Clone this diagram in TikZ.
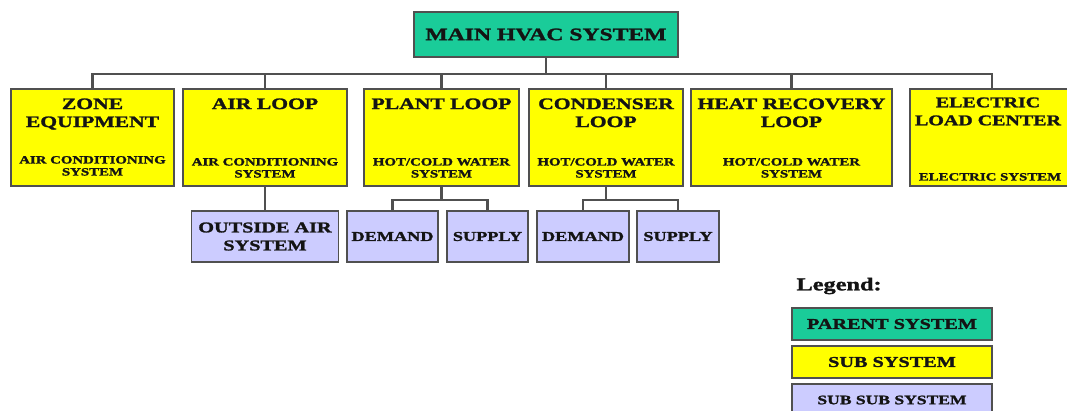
\documentclass[tikz,border=0pt]{standalone}
\usepackage{fontspec}
\newfontfamily\boxfont{Liberation Serif}[FakeStretch=1.35, BoldFeatures={FakeBold=1.6}]
\usetikzlibrary{positioning,calc}
\definecolor{parentgreen}{RGB}{26,204,153}
\definecolor{subyellow}{RGB}{255,255,0}
\definecolor{subsubblue}{RGB}{204,204,255}
\definecolor{edgegray}{RGB}{80,80,80}
\definecolor{inkgray}{RGB}{20,20,20}

\begin{document}
\begin{tikzpicture}[x=1pt,y=-1pt,
    every node/.style={text=inkgray},
    box/.style={draw=edgegray, line width=1.5pt, inner sep=0pt, align=center},
    parentbox/.style={box, fill=parentgreen},
    subbox/.style={box, fill=subyellow, minimum height=97pt},
    subsubbox/.style={box, fill=subsubblue, minimum height=51pt},
    link/.style={draw=edgegray, line width=2.4pt},
    title/.style={inner sep=0pt, align=center, anchor=north, font=\boxfont\bfseries\fontsize{16}{18}\selectfont},
    note/.style={inner sep=0pt, align=center, anchor=south, font=\boxfont\bfseries\fontsize{11}{12}\selectfont},
    lowfont/.style={font=\boxfont\bfseries\fontsize{#1}{18}\selectfont}]
    \clip (0,0) rectangle (1067,410);

    \node[parentbox, minimum width=264pt, minimum height=45pt, lowfont=17.5] (main) at (546,34.5) {MAIN HVAC SYSTEM};

    \node[subbox, minimum width=163pt] (zone) at (92.5,137.5) {};
    \node[subbox, minimum width=164pt] (air) at (265,137.5) {};
    \node[subbox, minimum width=155pt] (plant) at (441.5,137.5) {};
    \node[subbox, minimum width=154pt] (cond) at (606,137.5) {};
    \node[subbox, minimum width=201pt] (heat) at (791.5,137.5) {};
    \node[subbox, minimum width=164pt] (elec) at (992,137.5) {};

    \node[title] (zone-t) at ($(zone.north)+(0,10)$) {ZONE\\EQUIPMENT};
    \node[title] (air-t) at ($(air.north)+(0,10)$) {AIR LOOP};
    \node[title] (plant-t) at ($(plant.north)+(0,10)$) {PLANT LOOP};
    \node[title] (cond-t) at ($(cond.north)+(0,10)$) {CONDENSER\\LOOP};
    \node[title] (heat-t) at ($(heat.north)+(0,10)$) {HEAT RECOVERY\\LOOP};
    \node[title, lowfont=14.8] (elec-t) at ($(elec.north)+(-4,9)$) {ELECTRIC\\LOAD CENTER};

    \node[note] (zone-n) at ($(zone.south)+(0,-11)$) {AIR CONDITIONING\\SYSTEM};
    \node[note] (air-n) at ($(air.south)+(0,-9)$) {AIR CONDITIONING\\SYSTEM};
    \node[note] (plant-n) at ($(plant.south)+(0,-9)$) {HOT/COLD WATER\\SYSTEM};
    \node[note] (cond-n) at ($(cond.south)+(0,-9)$) {HOT/COLD WATER\\SYSTEM};
    \node[note] (heat-n) at ($(heat.south)+(0,-9)$) {HOT/COLD WATER\\SYSTEM};
    \node[note] (elec-n) at ($(elec.south)+(-2,-6)$) {ELECTRIC SYSTEM};

    \node[subsubbox, minimum width=147pt, lowfont=15] (oas) at (265,236.5) {OUTSIDE AIR\\SYSTEM};
    \node[subsubbox, minimum width=91pt, lowfont=13.5] (dem1) at (392.5,236.5) {DEMAND};
    \node[subsubbox, minimum width=81pt, lowfont=13.5] (sup1) at (487.5,236.5) {SUPPLY};
    \node[subsubbox, minimum width=92pt, lowfont=13.5] (dem2) at (583,236.5) {DEMAND};
    \node[subsubbox, minimum width=82pt, lowfont=13.5] (sup2) at (678,236.5) {SUPPLY};

    \foreach \c in {zone,air,plant,cond,heat,elec}
        \draw[link] (main.south) -- ++(0,16.5) -| (\c.north);
    \draw[link] (air.south) -- (oas.north);
    \foreach \c in {dem1,sup1}
        \draw[link] (plant.south) -- ++(0,13) -| (\c.north);
    \foreach \c in {dem2,sup2}
        \draw[link] (cond.south) -- ++(0,13) -| (\c.north);

    \node[anchor=west, lowfont=18] (legend) at (793,286) {Legend:};
    \node[parentbox, minimum width=200pt, minimum height=32pt, lowfont=15] (lgparent) at (892,324) {PARENT SYSTEM};
    \node[box, fill=subyellow, minimum width=200pt, minimum height=32pt, lowfont=15] (lgsub) at (892,362) {SUB SYSTEM};
    \node[box, fill=subsubblue, minimum width=200pt, minimum height=32pt, lowfont=13] (lgsubsub) at (892,400) {SUB SUB SYSTEM};
\end{tikzpicture}
\end{document}
